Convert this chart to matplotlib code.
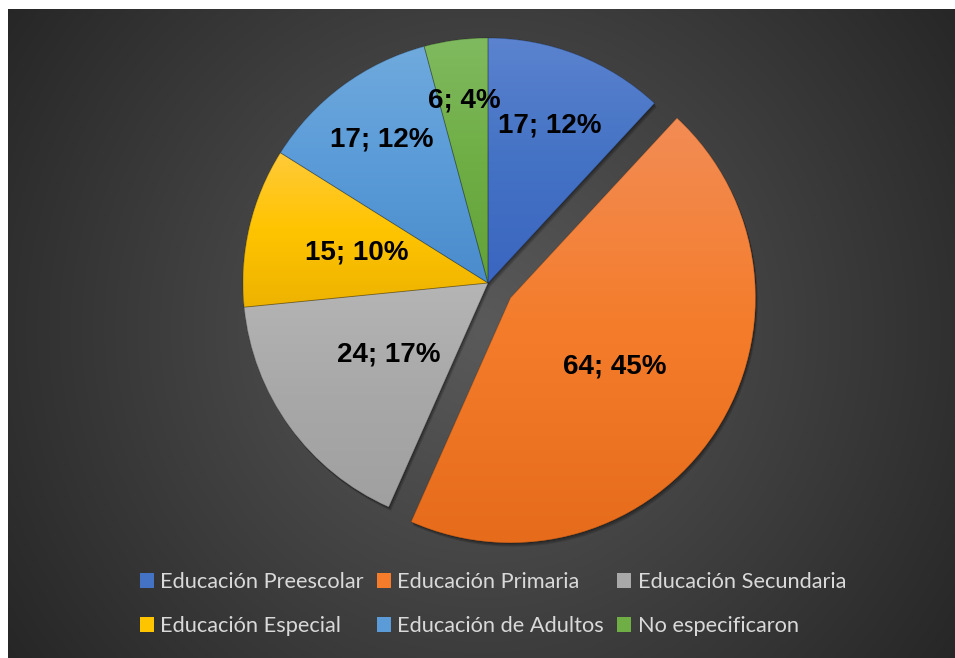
import matplotlib.pyplot as plt
import numpy as np
from matplotlib.colors import to_rgb
from matplotlib.patches import Wedge

categories = ['Educación Preescolar', 'Educación Primaria', 'Educación Secundaria',
              'Educación Especial', 'Educación de Adultos', 'No especificaron']
counts = [17, 64, 24, 15, 17, 6]
percents = [12, 45, 17, 10, 12, 4]
colors = ['#4472C4', '#F47C2A', '#A8A8A8', '#FFC400', '#5A9BD8', '#6FAE45']
# top / bottom gradient stops for each slice
tops = ['#5B83CF', '#F28C55', '#B5B5B5', '#FFCA3A', '#70AADD', '#80BA60']
bottoms = ['#3B66C1', '#E66C1C', '#A0A0A0', '#EDB300', '#4A8CCC', '#63A13A']
explode = [0, 0.11, 0, 0, 0, 0]
label_r = [0.69, 0.51, 0.50, 0.55, 0.73, 0.75]

W, H = 955, 658
fig = plt.figure(figsize=(W / 100, H / 100), dpi=100, facecolor='white')

# dark panel with a soft radial glow
bg = fig.add_axes([8 / W, 0, (W - 8) / W, (H - 9) / H])
bg.set_axis_off()
ph, pw = H - 9, W - 8
yy, xx = np.mgrid[0:ph, 0:pw]
d = np.clip(np.hypot(xx - 475, yy - 320) / 580, 0, 1)
inner = np.array(to_rgb('#5a5a5a'))
outer = np.array(to_rgb('#262626'))
bg.imshow(inner + (outer - inner) * d[..., None], aspect='auto', interpolation='bilinear')

# pie axes: centre at (488, 283) px, radius 245 px
R, S = 245, 300
ax = fig.add_axes([(488 - S) / W, (H - 283 - S) / H, 2 * S / W, 2 * S / H])
wedges, _ = ax.pie(counts, colors=colors, startangle=90, counterclock=False,
                   explode=explode, radius=1, wedgeprops={'linewidth': 0})

for w, c, c_top, c_bot in zip(wedges, colors, tops, bottoms):
    # blurred drop shadow
    for k in range(4):
        off = 0.004 + 0.004 * k
        sh = Wedge((w.center[0] + off * 0.6, w.center[1] - off), w.r, w.theta1, w.theta2,
                   facecolor='black', edgecolor='none', alpha=0.12, zorder=0)
        ax.add_patch(sh)

    # vertical three-stop gradient clipped to the slice
    x0, y0, x1, y1 = w.get_path().get_extents().extents
    t = np.linspace(0, 1, 256)
    stops = np.array([to_rgb(c_top), to_rgb(c), to_rgb(c_bot)])
    grad = np.stack([np.interp(t, [0, 0.5, 1], stops[:, i]) for i in range(3)], axis=-1)
    im = ax.imshow(grad[:, None, :], extent=(x0, x1, y0, y1), origin='upper', aspect='auto',
                   interpolation='bilinear', zorder=w.get_zorder() + 0.1)
    im.set_clip_path(w)

    # thin darker outline
    ax.add_patch(Wedge(w.center, w.r, w.theta1, w.theta2, facecolor='none',
                       edgecolor=(0, 0, 0, 0.25), linewidth=0.6, zorder=w.get_zorder() + 0.2))

for w, n, p, r in zip(wedges, counts, percents, label_r):
    ang = np.deg2rad((w.theta1 + w.theta2) / 2)
    ax.text(w.center[0] + r * np.cos(ang), w.center[1] + r * np.sin(ang), f'{n}; {p}%',
            ha='center', va='center', fontsize=20, fontweight='bold',
            family='Liberation Sans', color='black', zorder=5)

ax.set_xlim(-S / R, S / R)
ax.set_ylim(-S / R, S / R)
ax.set_aspect('equal')
ax.set_axis_off()

order = [0, 3, 1, 4, 2, 5]
fig.legend([wedges[i] for i in order], [categories[i] for i in order],
           loc='center', bbox_to_anchor=(493 / W, 1 - 604 / H), ncol=3, frameon=False,
           prop={'family': 'Lato', 'size': 15.7}, labelcolor='#d9d9d9',
           handlelength=0.64, handleheight=0.64, handletextpad=0.3,
           columnspacing=0.6, labelspacing=1.1)

fig.savefig('out.png', dpi=100, facecolor='white')
